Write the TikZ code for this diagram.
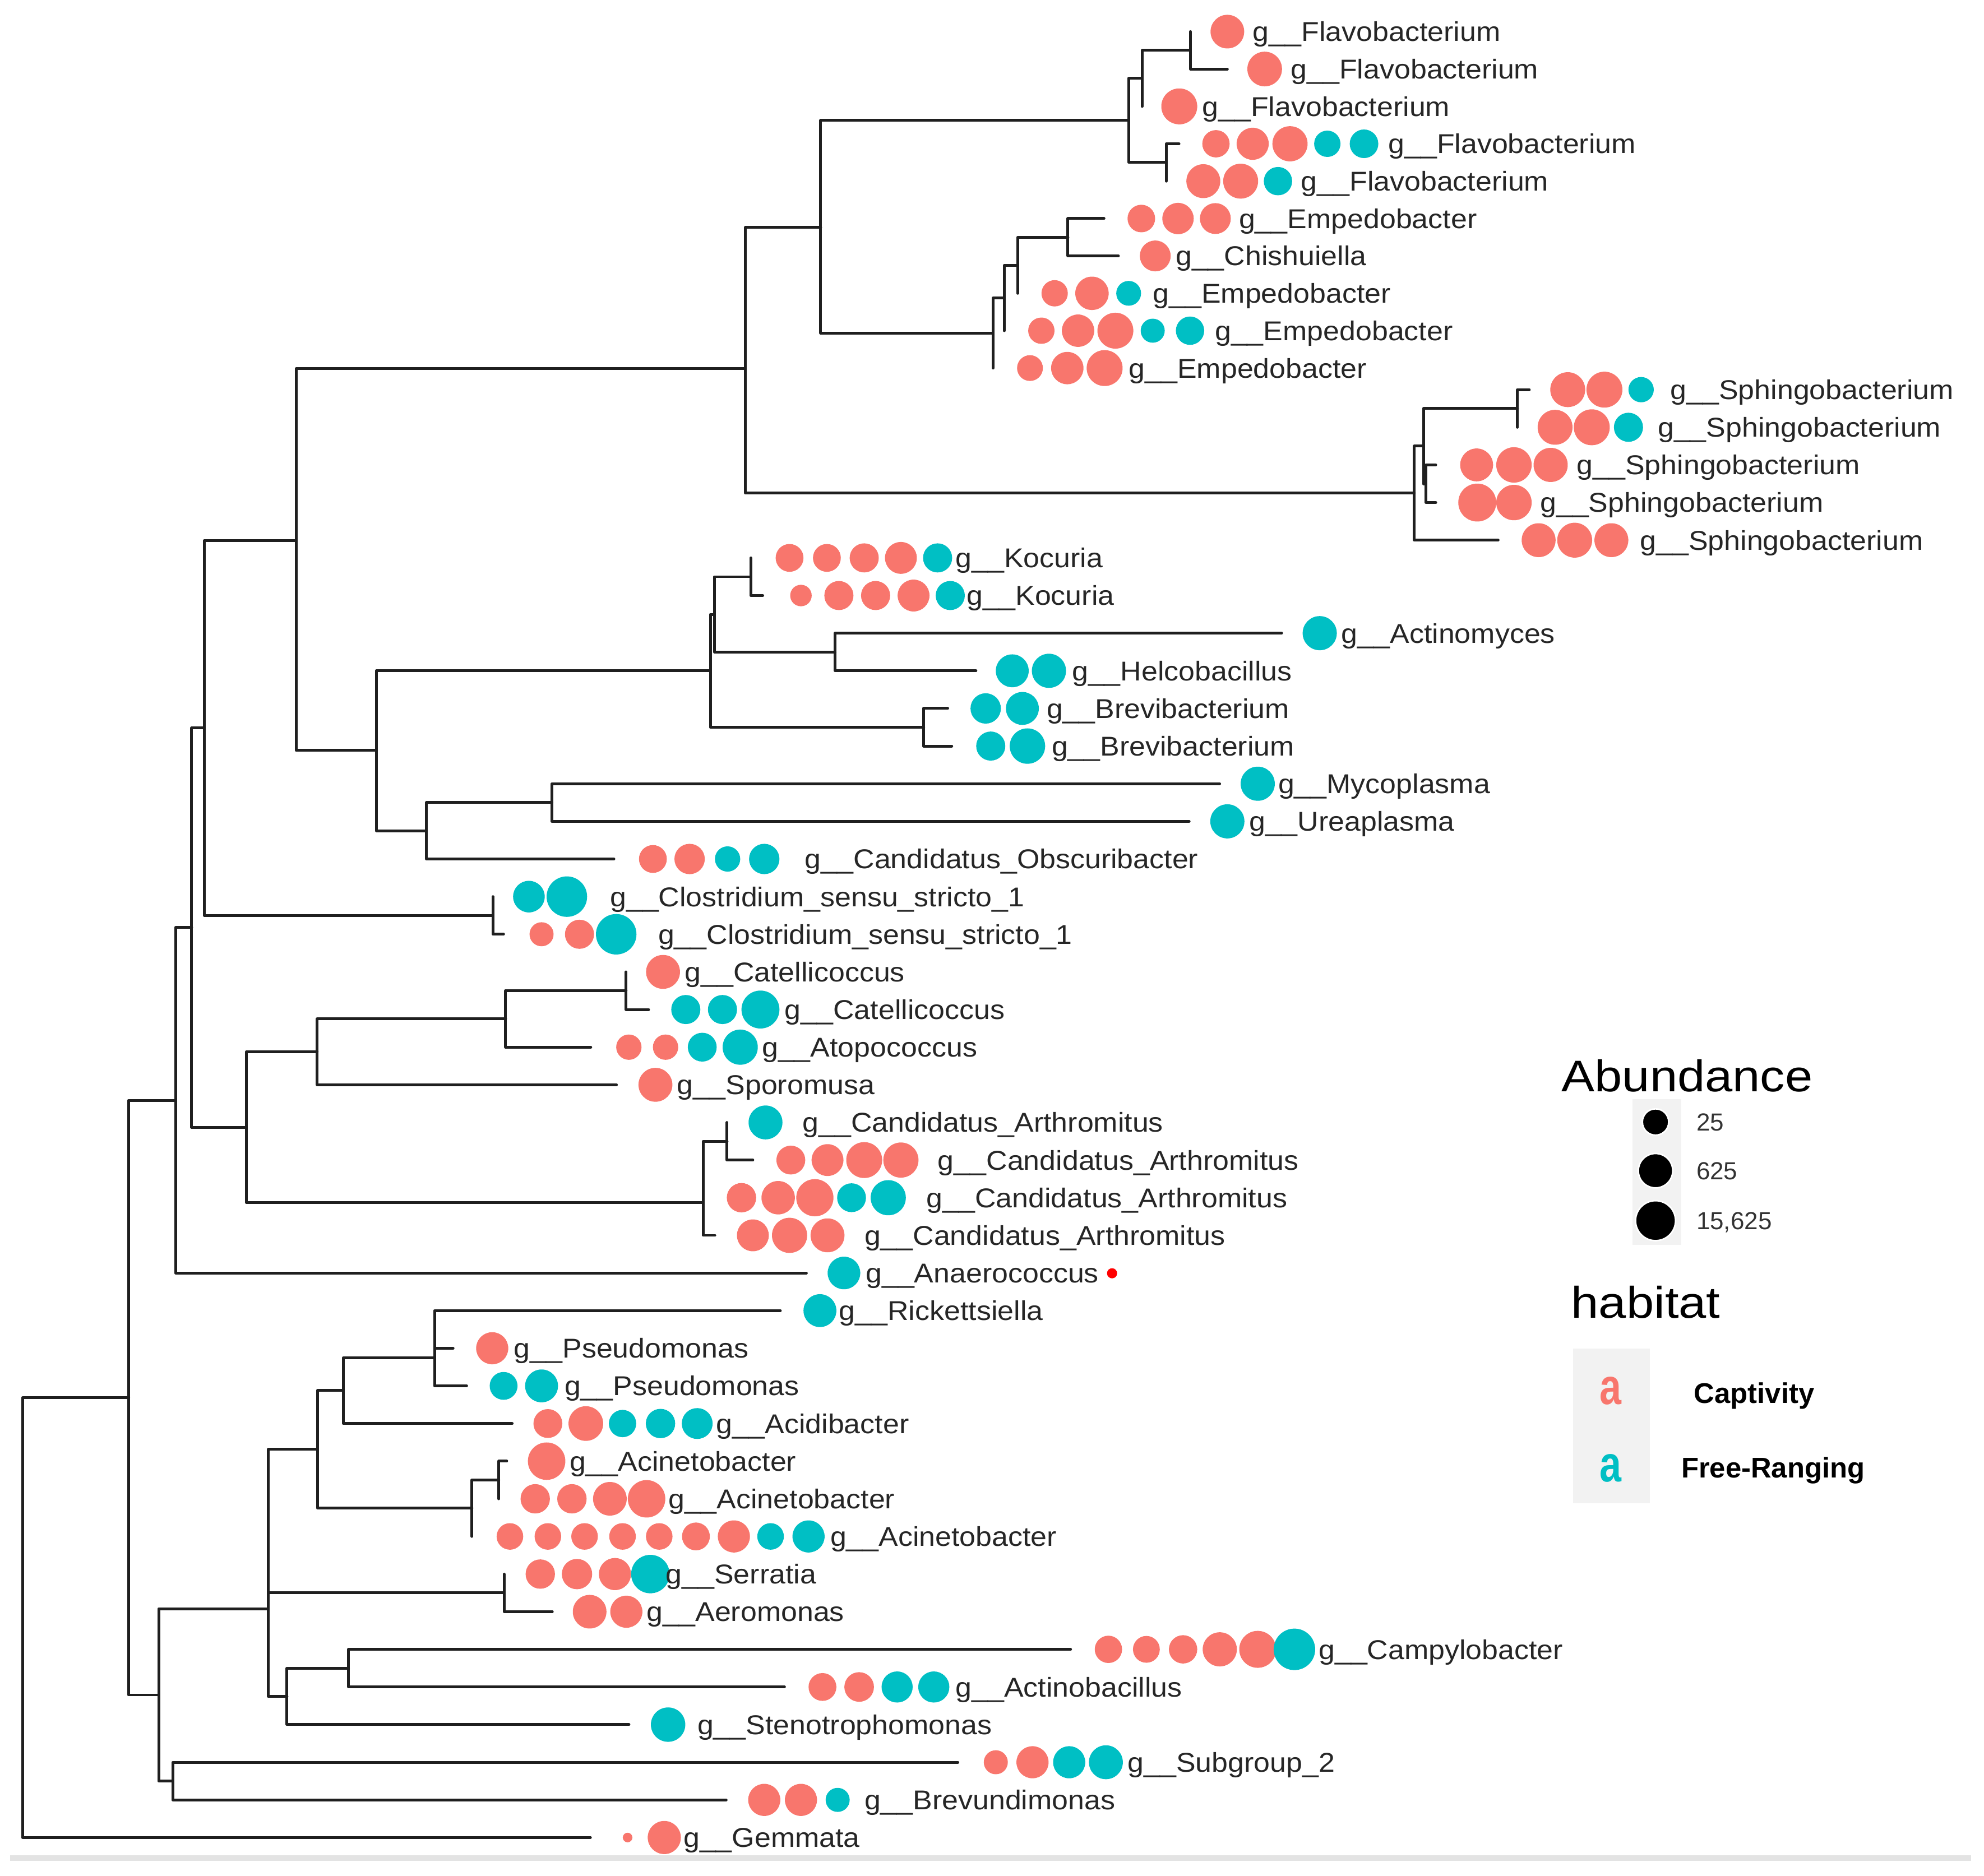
\documentclass[tikz,border=0pt]{standalone}
\usepackage{fontspec}
\setmainfont{Liberation Sans}
\newfontfamily\widefont[FakeStretch=1.07]{Liberation Sans}
\newfontfamily\titlefont[FakeStretch=1.12]{Liberation Sans}
\definecolor{capt}{HTML}{F8766D}
\definecolor{free}{HTML}{00BFC4}
\definecolor{keybg}{HTML}{F2F2F2}

\begin{document}
\begin{tikzpicture}[x=1pt,y=-1pt,
  branch/.style={draw=black!88, line width=2.2pt, line cap=round, line join=round},
  dot/.style={circle, inner sep=0pt, outer sep=0pt},
  lab/.style={anchor=base west, inner sep=0pt, text=black!85, font=\widefont\fontsize{21.5}{25}\selectfont},
  legtitle/.style={anchor=base west, inner sep=0pt, font=\titlefont\fontsize{35}{40}\selectfont},
  keylab/.style={anchor=base west, inner sep=0pt, text=black!80, font=\fontsize{19.5}{22}\selectfont},
  hablab/.style={anchor=base west, inner sep=0pt, font=\bfseries\fontsize{22.5}{26}\selectfont},
  keybox/.style={fill=keybg, inner sep=0pt, outer sep=0pt}]
\useasboundingbox (0,0) rectangle (1568,1482.9);

% tips, abundance dots and genus labels
\foreach \nm/\y/\tx/\lx/\txt/\pts in {
  flavo1/25/940.8/990/Flavobacterium/{970/13.3/capt},
  flavo2/54.55/970/1020/Flavobacterium/{999.5/13.7/capt},
  flavo3/84.1/902.6/950/Flavobacterium/{932/14.2/capt},
  flavo4/113.65/931.8/1097/Flavobacterium/{961/10.8/capt,990/12.7/capt,1019.5/13.9/capt,1049/10.4/free,1078/11.3/free},
  flavo5/143.2/921.7/1028/Flavobacterium/{951/13.4/capt,980.5/13.8/capt,1010/11.2/free},
  empedo1/172.75/872.5/979/Empedobacter/{902/10.9/capt,931/12.4/capt,960.5/12.2/capt},
  chishuiella/202.3/883.9/929/Chishuiella/{913/12.2/capt},
  empedo2/231.85/804.3/911/Empedobacter/{833.5/10.4/capt,863/13.2/capt,892/9.8/free},
  empedo3/261.4/793.6/960/Empedobacter/{823/10.4/capt,852/12.8/capt,881.5/14.2/capt,911/9.5/free,940.5/11.2/free},
  empedo4/290.95/784.8/892/Empedobacter/{814/10.2/capt,843.5/12.8/capt,873/14.2/capt},
  sphingo1/308/1208.6/1320/Sphingobacterium/{1239/13.8/capt,1268/14.2/capt,1297/10/free},
  sphingo2/337.75/1199.3/1310/Sphingobacterium/{1229/13.8/capt,1258/14.2/capt,1287/11.5/free},
  sphingo3/367.5/1134.7/1246/Sphingobacterium/{1167/13/capt,1196.5/14/capt,1225.5/13.5/capt},
  sphingo4/397.25/1134.7/1217/Sphingobacterium/{1167.5/15/capt,1196.5/14/capt},
  sphingo5/427/1184/1296/Sphingobacterium/{1216/13.4/capt,1244.5/13.8/capt,1273.5/13.4/capt},
  kocuria1/441/593.3/755/Kocuria/{624/11/capt,653.5/11/capt,683/11.5/capt,712/12.6/capt,741/11.5/free},
  kocuria2/470.75/602.8/764/Kocuria/{633/8.5/capt,663/11.5/capt,692/11.5/capt,722/12.6/capt,751/11.5/free},
  actinomyces/500.5/1012.9/1060/Actinomyces/{1043/13.5/free},
  helcobacillus/530.25/771.3/847/Helcobacillus/{800/13/free,829/13.5/free},
  brevibac1/560/749/827/Brevibacterium/{779/12/free,808/13/free},
  brevibac2/589.75/752.2/831/Brevibacterium/{783/11.5/free,812/14/free},
  mycoplasma/619.5/963.9/1010/Mycoplasma/{994/13.5/free},
  ureaplasma/649.25/939.8/987/Ureaplasma/{970/13.5/free},
  obscuribacter/679/485.2/636/Candidatus\_Obscuribacter/{516/11/capt,545/12/capt,575/10/free,604/12/free},
  clostridium1/708.75/389.5/482/Clostridium\_sensu\_stricto\_1/{418/12.5/free,448/16/free},
  clostridium2/738.5/398/520/Clostridium\_sensu\_stricto\_1/{428/9.5/capt,458/11.5/capt,487/16/free},
  catelli1/768.25/494.8/541/Catellicoccus/{524/13.4/capt},
  catelli2/798/512.6/620/Catellicoccus/{542/11.5/free,571/11.5/free,601/15/free},
  atopococcus/827.75/466.9/602/Atopococcus/{497/10/capt,526/10/capt,555/11.4/free,585/13.9/free},
  sporomusa/857.5/487.2/535/Sporomusa/{518/13.4/capt},
  arthro1/887.25/574.6/634/Candidatus\_Arthromitus/{605/13.4/free},
  arthro2/917/595/741/Candidatus\_Arthromitus/{625/11.4/capt,654/12.6/capt,683/14.2/capt,712/13.9/capt},
  arthro3/946.75/555.8/732/Candidatus\_Arthromitus/{586/11.6/capt,615/13.2/capt,644/14.7/capt,673/11.4/free,702/13.9/free},
  arthro4/976.5/565/683/Candidatus\_Arthromitus/{595/12.6/capt,624/13.9/capt,654/13.4/capt},
  anaerococcus/1006.25/637.3/684/Anaerococcus/{667/12.9/free},
  rickettsiella/1036/616.7/663/Rickettsiella/{648/13/free},
  pseudo1/1065.75/358.1/406/Pseudomonas/{389/12.7/capt},
  pseudo2/1095.5/368.8/446/Pseudomonas/{398/11/free,428/13/free},
  acidibacter/1125.25/404.8/566/Acidibacter/{433/11.4/capt,463/13.7/capt,492/10.8/free,522/11.6/free,551/12.2/free},
  acineto1/1155/400.5/450/Acinetobacter/{432/14.8/capt},
  acineto2/1184.75/394.2/528/Acinetobacter/{423/11.6/capt,452/11.6/capt,482/13.3/capt,511/14.8/capt},
  acineto3/1214.5/373/656/Acinetobacter/{403/10.5/capt,433/10.5/capt,462/10.5/capt,492/10.5/capt,521/10.5/capt,550/11/capt,580/12.7/capt,609/10.5/free,639/12.7/free},
  serratia/1244.25/398.4/526/Serratia/{427/11.6/capt,456/12/capt,486/12.7/capt,514/15.2/free},
  aeromonas/1274/436.5/511/Aeromonas/{466/13.3/capt,495/12.7/capt},
  campylobacter/1303.75/846.1/1042/Campylobacter/{876/10.8/capt,906/10.6/capt,935/11.2/capt,964/13.5/capt,994/14.6/capt,1023/16.4/free},
  actinobacillus/1333.5/620/755/Actinobacillus/{650/11/capt,679/11.7/capt,709/12.3/free,738/12.3/free},
  stenotroph/1363.25/497.1/551/Stenotrophomonas/{528/13.6/free},
  subgroup/1393/757/891/Subgroup\_2/{787/9.5/capt,816/12.7/capt,845/12.7/free,874/13.4/free},
  brevundi/1422.75/573.9/683/Brevundimonas/{604/12.7/capt,633/12.7/capt,662/9.5/free},
  gemmata/1452.5/466.6/540/Gemmata/{496/3.8/capt,525/13.1/capt}}{
  \coordinate (\nm) at (\tx,\y);
  \foreach \x/\rad/\col [count=\k] in \pts
    \node[dot, fill=\col, minimum size=2*\rad] (\nm-\k) at (\x,\y) {};
  \node[lab] (\nm-lab) at (\lx,\y+7.7) {g\_\_\txt};
}
\node[dot, fill=red, minimum size=8] (anaerodot) at (878.9,1006.5) {};

% inner nodes of the tree
\coordinate (root) at (17.8,1278.6);
\coordinate (rest) at (101.7,1104.8);
\coordinate (upper) at (138.7,869.75);
\coordinate (lower) at (125.4,1339.8);
\coordinate (firm) at (151.5,733.25);
\coordinate (mid) at (161.5,575.5);
\coordinate (bacilli) at (194.7,891);
\coordinate (top) at (234,427.3);
\coordinate (clost) at (389.5,723.6);
\coordinate (bactero) at (589,291.5);
\coordinate (actino) at (297.6,593.2);
\coordinate (flavemp) at (648.6,179.75);
\coordinate (sphingo) at (1117.8,389.8);
\coordinate (flavo) at (892,95.2);
\coordinate (flavoa) at (902.6,61.9);
\coordinate (flavob) at (940.8,39.8);
\coordinate (flavoc) at (921.7,128.4);
\coordinate (emped) at (784.8,263.2);
\coordinate (empeda) at (793.6,235.5);
\coordinate (empedb) at (804.3,209.7);
\coordinate (empedc) at (844,187.5);
\coordinate (sphingoa) at (1125,352.6);
\coordinate (sphingob) at (1199.3,322.9);
\coordinate (sphingoc) at (1127,382.4);
\coordinate (kocbrev) at (561.4,530.2);
\coordinate (kocact) at (564.6,485.6);
\coordinate (koc) at (593.3,455.9);
\coordinate (acthel) at (660,515.4);
\coordinate (brev) at (730,574.9);
\coordinate (molli) at (337,656.7);
\coordinate (mycurea) at (436.2,634.4);
\coordinate (catato) at (250.7,831.5);
\coordinate (catatob) at (399.6,805.4);
\coordinate (catell) at (494.8,783.1);
\coordinate (arthro) at (555.8,950.5);
\coordinate (arthroa) at (555.8,924.4);
\coordinate (arthrob) at (574.6,902.1);
\coordinate (proteo) at (211.9,1271.65);
\coordinate (proteoa) at (211.9,1202.4);
\coordinate (gamma) at (250.9,1145.7);
\coordinate (pseudac) at (271.3,1099.2);
\coordinate (pseud) at (343.4,1073.2);
\coordinate (pseuda) at (343.4,1050.9);
\coordinate (acin) at (373,1192.2);
\coordinate (acina) at (394.2,1169.9);
\coordinate (seraer) at (398.4,1259.1);
\coordinate (campact) at (226.8,1340.9);
\coordinate (campb) at (275.4,1318.6);
\coordinate (acido) at (136.5,1407.9);

\foreach \p/\q in {root/rest, root/gemmata, rest/upper, rest/lower,
  upper/firm, upper/anaerococcus, firm/mid, firm/bacilli, mid/top, mid/clost,
  top/bactero, top/actino, bactero/flavemp, bactero/sphingo,
  flavemp/flavo, flavemp/emped, flavo/flavoa, flavo/flavoc,
  flavoa/flavob, flavoa/flavo3, flavob/flavo1, flavob/flavo2,
  flavoc/flavo4, flavoc/flavo5, emped/empeda, emped/empedo4,
  empeda/empedb, empeda/empedo3, empedb/empedc, empedb/empedo2,
  empedc/empedo1, empedc/chishuiella, sphingo/sphingoa, sphingo/sphingo5,
  sphingoa/sphingob, sphingoa/sphingoc, sphingob/sphingo1, sphingob/sphingo2,
  sphingoc/sphingo3, sphingoc/sphingo4, actino/kocbrev, actino/molli,
  kocbrev/kocact, kocbrev/brev, kocact/koc, kocact/acthel,
  koc/kocuria1, koc/kocuria2, acthel/actinomyces, acthel/helcobacillus,
  brev/brevibac1, brev/brevibac2, molli/mycurea, molli/obscuribacter,
  mycurea/mycoplasma, mycurea/ureaplasma, clost/clostridium1, clost/clostridium2,
  bacilli/catato, bacilli/arthro, catato/catatob, catato/sporomusa,
  catatob/catell, catatob/atopococcus, catell/catelli1, catell/catelli2,
  arthro/arthroa, arthro/arthro4, arthroa/arthrob, arthroa/arthro3,
  arthrob/arthro1, arthrob/arthro2, lower/proteo, lower/acido,
  proteo/proteoa, proteo/campact, proteoa/gamma, proteoa/seraer,
  gamma/pseudac, gamma/acin, pseudac/pseud, pseudac/acidibacter,
  pseud/pseuda, pseud/pseudo2, pseuda/rickettsiella, pseuda/pseudo1,
  acin/acina, acin/acineto3, acina/acineto1, acina/acineto2,
  seraer/serratia, seraer/aeromonas, campact/campb, campact/stenotroph,
  campb/campylobacter, campb/actinobacillus, acido/subgroup, acido/brevundi}
  \draw[branch] (\p) |- (\q);

% legend
\node[legtitle] (abtitle) at (1234,862.9) {Abundance};
\node[keybox, minimum width=38.7, minimum height=115.3] (abkey) at (1309.35,926.55) {};
\foreach \nm/\y/\rad/\v in {ab1/886.9/10.4/25, ab2/925.4/13.6/625, ab3/964.9/15.8/{15,625}}{
  \node[dot, fill=black, draw=white, line width=1.2pt, minimum size=2*\rad] (\nm) at (1308.4,\y) {};
  \node[keylab] (\nm-lab) at (1340.5,\y+7) {\v};
}
\node[legtitle] (habtitle) at (1241.6,1041.8) {habitat};
\node[keybox, minimum width=60.6, minimum height=122.5] (habkey) at (1273.5,1127.05) {};
\node[inner sep=0pt, text=capt, font=\bfseries\fontsize{31}{31}\selectfont] (capkey) at (1273,1099.4) {\scalebox{1}[1.3]{a}};
\node[inner sep=0pt, text=free, font=\bfseries\fontsize{31}{31}\selectfont] (freekey) at (1273,1160.7) {\scalebox{1}[1.3]{a}};
\node[hablab] (caplab) at (1338.7,1109.4) {Captivity};
\node[hablab] (freelab) at (1328.6,1168.3) {Free-Ranging};

\coordinate (axisl) at (8,1468.6);
\coordinate (axisr) at (1558,1468.6);
\draw[black!11, line width=4.3pt] (axisl) -- (axisr);
\end{tikzpicture}
\end{document}
